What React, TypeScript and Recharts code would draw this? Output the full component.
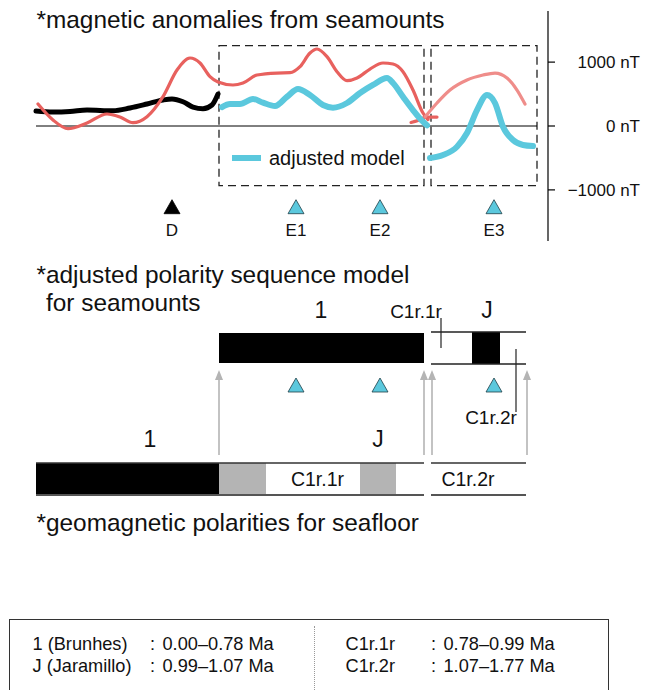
import React from "react";
import {
  ComposedChart,
  Line,
  Scatter,
  XAxis,
  YAxis,
  ReferenceLine,
  ReferenceArea,
  LabelList,
} from "recharts";

const FONT = '"Liberation Sans", Arial, Helvetica, sans-serif';
const RED = "#e8615e";
const SALMON = "#ef8d8a";
const CYAN = "#5bc8dd";
const GRAY = "#b4b4b4";

// profile position (same units for every panel) vs anomaly in nT
const observedD = [
  { x: 36, v: 235 }, { x: 53, v: 219 }, { x: 70, v: 227 }, { x: 87, v: 250 },
  { x: 113, v: 239 }, { x: 130, v: 282 }, { x: 147, v: 344 }, { x: 163, v: 407 },
  { x: 172, v: 423 }, { x: 183, v: 380 }, { x: 193, v: 297 }, { x: 203, v: 271 },
  { x: 212, v: 329 }, { x: 218, v: 501 },
];

const observedE12 = [
  { x: 38, v: 344 }, { x: 53, v: 94 }, { x: 68, v: -42 }, { x: 87, v: 47 },
  { x: 107, v: 188 }, { x: 120, v: 141 }, { x: 133, v: 52 }, { x: 147, v: 146 },
  { x: 163, v: 459 }, { x: 177, v: 876 }, { x: 190, v: 1064 }, { x: 200, v: 986 },
  { x: 210, v: 772 }, { x: 218, v: 689 }, { x: 233, v: 642 }, { x: 243, v: 673 },
  { x: 257, v: 798 }, { x: 277, v: 829 }, { x: 290, v: 834 }, { x: 300, v: 928 },
  { x: 310, v: 1142 }, { x: 317, v: 1205 }, { x: 327, v: 1085 }, { x: 337, v: 850 },
  { x: 347, v: 709 }, { x: 357, v: 751 }, { x: 370, v: 892 }, { x: 383, v: 986 },
  { x: 393, v: 970 }, { x: 403, v: 850 }, { x: 413, v: 563 }, { x: 423, v: 203 },
  { x: 428, v: 100 },
];

const observedGap = [
  { x: 411, v: 55 }, { x: 418, v: 85 }, { x: 426, v: 140 }, { x: 437, v: 140 },
];

const observedE3 = [
  { x: 425, v: 141 }, { x: 437, v: 360 }, { x: 450, v: 563 }, { x: 467, v: 720 },
  { x: 483, v: 798 }, { x: 495, v: 829 }, { x: 507, v: 751 }, { x: 517, v: 563 },
  { x: 525, v: 344 },
];

const modelE12 = [
  { x: 222, v: 297 }, { x: 230, v: 344 }, { x: 240, v: 344 }, { x: 253, v: 423 },
  { x: 263, v: 365 }, { x: 275, v: 313 }, { x: 287, v: 458 }, { x: 298, v: 579 },
  { x: 310, v: 485 }, { x: 323, v: 329 }, { x: 333, v: 286 }, { x: 347, v: 360 },
  { x: 360, v: 516 }, { x: 373, v: 642 }, { x: 387, v: 751 }, { x: 393, v: 673 },
  { x: 403, v: 458 }, { x: 413, v: 250 }, { x: 423, v: 67 }, { x: 427, v: 10 },
];

const modelE3 = [
  { x: 430, v: -501 }, { x: 443, v: -454 }, { x: 457, v: -324 }, { x: 467, v: -110 },
  { x: 477, v: 250 }, { x: 487, v: 485 }, { x: 495, v: 360 }, { x: 503, v: -11 },
  { x: 513, v: -219 }, { x: 523, v: -297 }, { x: 533, v: -313 },
];

const anomalyTicks = [-1000, 0, 1000];

const seamounts = [
  { name: "D", x: 172, kind: "dated" },
  { name: "E1", x: 296, kind: "model" },
  { name: "E2", x: 380, kind: "model" },
  { name: "E3", x: 494, kind: "model" },
];

// model windows (profile x)
const windows = [
  { x1: 219, x2: 424 },
  { x1: 431, x2: 537 },
];

const seamountPolarity = [
  { from: 219, to: 424, kind: "normal" },
  { from: 431, to: 472, kind: "reversed" },
  { from: 472, to: 500, kind: "normal" },
  { from: 500, to: 526, kind: "reversed" },
];

const seafloorPolarity = [
  { from: 36, to: 219, kind: "normal" },
  { from: 219, to: 266, kind: "uncertain" },
  { from: 266, to: 360, kind: "reversed" },
  { from: 360, to: 396, kind: "uncertain" },
  { from: 396, to: 424, kind: "reversed" },
  { from: 431, to: 526, kind: "reversed" },
];

const correlations = [219, 424, 432, 527];

const chronTable = [
  { left: "1 (Brunhes)", leftAge: "0.00–0.78 Ma", right: "C1r.1r", rightAge: "0.78–0.99 Ma" },
  { left: "J (Jaramillo)", leftAge: "0.99–1.07 Ma", right: "C1r.2r", rightAge: "1.07–1.77 Ma" },
];

function Txt({ x, y, size, anchor = "start", children }: any) {
  const shift = anchor === "middle" ? "-50%" : anchor === "end" ? "-100%" : "0";
  return (
    <div
      style={{
        position: "absolute",
        left: x,
        top: y - 0.8465 * size,
        fontSize: size,
        lineHeight: `${size}px`,
        fontFamily: FONT,
        whiteSpace: "pre",
        color: "#111",
        transform: `translateX(${shift})`,
      }}
    >
      {children}
    </div>
  );
}

const Triangle = (props: any) => {
  const { cx, cy, payload } = props;
  const dated = payload && payload.kind === "dated";
  return (
    <polygon
      points={`${cx},${cy - 7} ${cx - 8},${cy + 7} ${cx + 8},${cy + 7}`}
      fill={dated ? "#000" : CYAN}
      stroke={dated ? "#000" : "#1e3f48"}
      strokeWidth={0.8}
    />
  );
};

const NtTick = (props: any) => {
  const { y, payload } = props;
  const v = payload.value;
  const label = v < 0 ? `−${Math.abs(v)} nT` : `${v} nT`;
  return (
    <text x={640} y={y} dy={6} textAnchor="end" fontSize={17} fontFamily={FONT} fill="#111">
      {label}
    </text>
  );
};

const Arrow = (props: any) => {
  const { x1, y1, x2, y2 } = props;
  return (
    <g>
      <line x1={x1} y1={y1} x2={x2} y2={y2 + 6} stroke={GRAY} strokeWidth={1.6} />
      <polygon points={`${x2},${y2} ${x2 - 4},${y2 + 10} ${x2 + 4},${y2 + 10}`} fill={GRAY} />
    </g>
  );
};

const lineProps = {
  dataKey: "v",
  dot: false,
  activeDot: false,
  isAnimationActive: false,
  type: "monotone" as const,
  strokeLinecap: "round" as const,
};

function AnomalyPanel() {
  const markerLevel = -1263;
  const marks = seamounts.map((s) => ({ ...s, v: markerLevel }));
  return (
    <ComposedChart width={652} height={250} margin={{ top: 11, right: 0, bottom: 9, left: 0 }}>
      <XAxis dataKey="x" type="number" domain={[0, 548]} hide allowDataOverflow />
      <YAxis
        orientation="right"
        width={104}
        domain={[-1800, 1800]}
        ticks={anomalyTicks}
        tickSize={7}
        tick={<NtTick />}
        axisLine={{ stroke: "#000", strokeWidth: 1.2 }}
        tickLine={{ stroke: "#000", strokeWidth: 1.2 }}
        allowDataOverflow
      />
      {windows.map((w, i) => (
        <ReferenceArea
          key={i}
          x1={w.x1}
          x2={w.x2}
          y1={-934}
          y2={1257}
          fill="none"
          stroke="#222"
          strokeWidth={1.3}
          strokeDasharray="8 5"
          ifOverflow="visible"
        />
      ))}
      <ReferenceLine
        segment={[{ x: 36, y: 0 }, { x: 537, y: 0 }]}
        stroke="#000"
        strokeWidth={1}
        ifOverflow="visible"
      />
      <Line data={observedD} stroke="#000" strokeWidth={5} {...lineProps} />
      <Line data={observedE12} stroke={RED} strokeWidth={3.2} {...lineProps} />
      <Line data={observedGap} stroke={RED} strokeWidth={3.2} {...lineProps} />
      <Line data={observedE3} stroke={SALMON} strokeWidth={3.2} {...lineProps} />
      <Line data={modelE12} stroke={CYAN} strokeWidth={6} {...lineProps} />
      <Line data={modelE3} stroke={CYAN} strokeWidth={6} {...lineProps} />
      <Scatter data={marks} dataKey="v" shape={<Triangle />} isAnimationActive={false}>
        <LabelList dataKey="name" position="bottom" offset={13} fill="#111" fontSize={17} fontFamily={FONT} />
      </Scatter>
    </ComposedChart>
  );
}

function PolarityPanel() {
  const bandTop = 83;
  const bandBottom = 113;
  const floorTop = 213;
  const floorBottom = 245;
  const triLevel = 135;
  const marks = seamounts
    .filter((s) => s.kind === "model")
    .map((s) => ({ ...s, v: triLevel }));
  return (
    <ComposedChart width={652} height={260} margin={{ top: 0, right: 104, bottom: 0, left: 0 }}>
      <XAxis dataKey="x" type="number" domain={[0, 548]} hide allowDataOverflow />
      <YAxis type="number" domain={[0, 260]} reversed hide allowDataOverflow />

      {/* seamount model sequence */}
      {seamountPolarity.map((p, i) =>
        p.kind === "normal" ? (
          <ReferenceArea
            key={`s${i}`}
            x1={p.from}
            x2={p.to}
            y1={i === 0 ? bandTop : bandTop - 1}
            y2={i === 0 ? bandBottom : bandBottom + 1}
            fill="#000"
            fillOpacity={1}
            stroke="none"
          />
        ) : null
      )}
      <ReferenceLine segment={[{ x: 431, y: bandTop - 1 }, { x: 526, y: bandTop - 1 }]} stroke="#222" strokeWidth={1.5} />
      <ReferenceLine segment={[{ x: 431, y: bandBottom + 1 }, { x: 526, y: bandBottom + 1 }]} stroke="#222" strokeWidth={1.5} />
      <ReferenceLine segment={[{ x: 441, y: 68 }, { x: 441, y: 98 }]} stroke="#222" strokeWidth={1.2} />
      <ReferenceLine segment={[{ x: 516, y: 99 }, { x: 516, y: 162 }]} stroke="#222" strokeWidth={1.2} />

      {/* seafloor sequence */}
      {seafloorPolarity.map((p, i) =>
        p.kind === "reversed" ? null : (
          <ReferenceArea
            key={`f${i}`}
            x1={p.from}
            x2={p.to}
            y1={floorTop}
            y2={floorBottom}
            fill={p.kind === "normal" ? "#000" : GRAY}
            fillOpacity={1}
            stroke="none"
          />
        )
      )}
      <ReferenceLine segment={[{ x: 36, y: floorTop }, { x: 424, y: floorTop }]} stroke="#333" strokeWidth={1.5} />
      <ReferenceLine segment={[{ x: 36, y: floorBottom }, { x: 424, y: floorBottom }]} stroke="#555" strokeWidth={2} />
      <ReferenceLine segment={[{ x: 431, y: floorTop }, { x: 526, y: floorTop }]} stroke="#333" strokeWidth={1.5} />
      <ReferenceLine segment={[{ x: 431, y: floorBottom }, { x: 526, y: floorBottom }]} stroke="#555" strokeWidth={2} />

      {correlations.map((x) => (
        <ReferenceLine
          key={`a${x}`}
          segment={[{ x, y: 205 }, { x, y: 120 }]}
          shape={<Arrow />}
        />
      ))}

      <Scatter data={marks} dataKey="v" shape={<Triangle />} isAnimationActive={false} />
    </ComposedChart>
  );
}

function ChronTable() {
  const rowY = [30, 52.5];
  return (
    <div
      style={{
        position: "absolute",
        left: 9,
        top: 619,
        width: 598,
        height: 90,
        border: "1.5px solid #333",
        fontFamily: FONT,
      }}
    >
      <div
        style={{
          position: "absolute",
          left: 304,
          top: 6,
          bottom: 0,
          borderLeft: "1px dotted #999",
        }}
      />
      {chronTable.map((r, i) => (
        <React.Fragment key={i}>
          <Txt x={22.5} y={rowY[i]} size={18.2}>{r.left}</Txt>
          <Txt x={140} y={rowY[i]} size={18.2}>:</Txt>
          <Txt x={152.5} y={rowY[i]} size={18.2}>{r.leftAge}</Txt>
          <Txt x={335.5} y={rowY[i]} size={18.2}>{r.right}</Txt>
          <Txt x={421} y={rowY[i]} size={18.2}>:</Txt>
          <Txt x={433.5} y={rowY[i]} size={18.2}>{r.rightAge}</Txt>
        </React.Fragment>
      ))}
    </div>
  );
}

export default function App() {
  return (
    <div style={{ position: "absolute", left: 0, top: 0, width: 652, height: 690, overflow: "hidden", background: "#fff" }}>
      <div style={{ position: "absolute", left: 0, top: 0 }}>
        <AnomalyPanel />
      </div>
      <div style={{ position: "absolute", left: 0, top: 250 }}>
        <PolarityPanel />
      </div>

      <Txt x={36.5} y={28.3} size={24.4}>*magnetic anomalies from seamounts</Txt>

      {/* legend */}
      <div style={{ position: "absolute", left: 232, top: 155, width: 29, height: 6, background: CYAN }} />
      <Txt x={269} y={165} size={20}>adjusted model</Txt>

      <Txt x={36.5} y={284} size={24.4}>*adjusted polarity sequence model</Txt>
      <Txt x={46} y={311.5} size={24.4}>for seamounts</Txt>
      <Txt x={321} y={318} size={23} anchor="middle">1</Txt>
      <Txt x={416} y={318} size={19} anchor="middle">C1r.1r</Txt>
      <Txt x={487} y={318} size={23} anchor="middle">J</Txt>
      <Txt x={491} y={424} size={19} anchor="middle">C1r.2r</Txt>

      <Txt x={150} y={447} size={23} anchor="middle">1</Txt>
      <Txt x={378} y={447} size={23} anchor="middle">J</Txt>
      <Txt x={317.5} y={487} size={19.5} anchor="middle">C1r.1r</Txt>
      <Txt x={468} y={487} size={19.5} anchor="middle">C1r.2r</Txt>

      <Txt x={36.5} y={531.7} size={24.4}>*geomagnetic polarities for seafloor</Txt>

      <ChronTable />
    </div>
  );
}
